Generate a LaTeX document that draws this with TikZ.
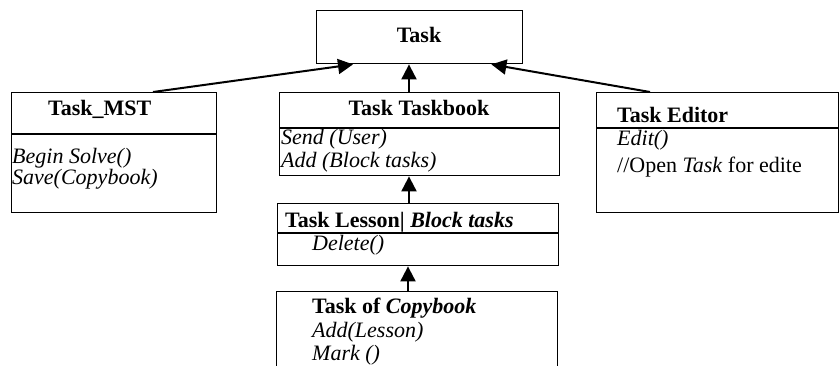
\documentclass[tikz,border=0pt]{standalone}
\usepackage{fontspec}
\setmainfont{Liberation Serif}
\usetikzlibrary{arrows.meta,positioning}

\begin{document}
\begin{tikzpicture}[
    x=1pt, y=-1pt,
    font=\fontsize{22}{25}\selectfont,
    >={Triangle[width=15pt,length=15pt]},
    cls/.style ={draw, line width=1.4pt, anchor=north west, inner sep=0pt},
    hd/.style  ={font=\fontsize{22}{25}\selectfont\bfseries, inner sep=0pt,
                 anchor=base west},
    op/.style  ={font=\fontsize{22}{25}\selectfont\itshape, inner sep=0pt,
                 anchor=base west},
    txt/.style ={inner sep=0pt, anchor=base west},
    sep/.style ={line width=1.4pt},
    gen/.style ={->, line width=2pt},
  ]
  \useasboundingbox (0,0) rectangle (839,365);

  % ------------------------------------------------------------- base ---
  \node[cls, minimum width=206pt, minimum height=53pt] (task) at (316,10) {};
  \node[hd, anchor=base] (taskT) at (419,42) {Task};

  % ---------------------------------------------------------- Task_MST ---
  \node[cls, minimum width=205pt, minimum height=120pt] (mst) at (11,92) {};
  \draw[sep] ([yshift=-42pt]mst.north west) -- ([yshift=-42pt]mst.north east);
  \node[hd] (mstT) at (48,115) {Task\_MST};
  \node[op] (mstA) at (12,163) {Begin Solve()};
  \node[op] (mstB) at (12,184) {Save(Copybook)};

  % ---------------------------------------------------------- Taskbook ---
  \node[cls, minimum width=280pt, minimum height=83pt] (tb) at (279,92) {};
  \draw[sep] ([yshift=-36pt]tb.north west) -- ([yshift=-36pt]tb.north east);
  \node[hd, anchor=base] (tbT) at (419,115) {Task Taskbook};
  \node[op] (tbA) at (281,144) {Send (User)};
  \node[op] (tbB) at (281,167) {Add (Block tasks)};

  % ------------------------------------------------------------ Lesson ---
  \node[cls, minimum width=281pt, minimum height=62pt] (les) at (277,203) {};
  \draw[sep] ([yshift=-30pt]les.north west) -- ([yshift=-30pt]les.north east);
  \node[hd] (lesT) at (285,227) {Task Lesson| \textit{Block tasks}};
  \node[op] (lesA) at (312,250) {Delete()};

  % ---------------------------------------------------------- Copybook ---
  \node[cls, minimum width=281pt, minimum height=100pt] (cb) at (276,291) {};
  \node[hd] (cbT) at (312,313) {Task of \textit{Copybook}};
  \node[op] (cbA) at (312,337) {Add(Lesson)};
  \node[op] (cbB) at (312,360) {Mark ()};

  % ------------------------------------------------------------ Editor ---
  \node[cls, minimum width=242pt, minimum height=120pt] (ed) at (596,92) {};
  \draw[sep] ([yshift=-36pt]ed.north west) -- ([yshift=-36pt]ed.north east);
  \node[hd] (edT) at (617,122) {Task Editor};
  \node[op] (edA) at (617,145) {Edit()};
  \node[txt] (edB) at (617,172) {//Open \textit{Task} for edite};

  % ============================================================= edges ===
  \draw[gen] ([xshift=142pt]mst.north west) -- ([xshift=37pt]task.south west);
  \draw[gen] ([xshift=130pt]tb.north west)  -- ([xshift=93pt]task.south west);
  \draw[gen] ([xshift=54pt]ed.north west)   -- ([xshift=-32pt]task.south east);
  \draw[gen] ([xshift=132pt]les.north west) -- ([xshift=130pt]tb.south west);
  \draw[gen] ([xshift=132pt]cb.north west)  -- ([xshift=131pt]les.south west);

\end{tikzpicture}
\end{document}
